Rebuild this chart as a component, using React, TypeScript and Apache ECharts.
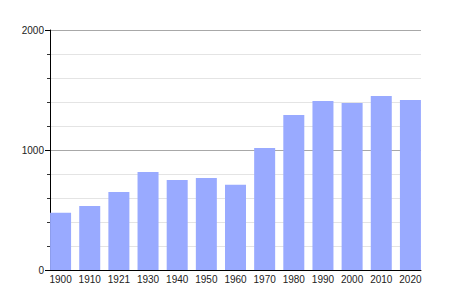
import React, { useEffect, useRef } from "react";
import * as echarts from "echarts";

const years = ["1900", "1910", "1921", "1930", "1940", "1950", "1960", "1970", "1980", "1990", "2000", "2010", "2020"];
const population = [477, 533, 650, 817, 750, 767, 711, 1017, 1292, 1408, 1392, 1450, 1417];
const yMin = 0;
const yMax = 2000;
const yInterval = 1000;

export default function App() {
  const ref = useRef<HTMLDivElement>(null);
  useEffect(() => {
    if (!ref.current) return;
    const chart = echarts.init(ref.current, null, { renderer: "svg" });
    const font = "Liberation Sans, Arial, sans-serif";
    chart.setOption({
      animation: false,
      backgroundColor: "#ffffff",
      grid: [
        { left: 46, right: 25, top: 30, bottom: 30, containLabel: false },
        { left: 50, right: 29, top: 30, bottom: 30, containLabel: false },
      ],
      xAxis: [
        {
          type: "category",
          gridIndex: 0,
          data: years,
          boundaryGap: true,
          axisLine: { show: false },
          axisTick: { show: false },
          axisLabel: { color: "#222", fontSize: 10, fontFamily: font, margin: 4, interval: 0 },
        },
        {
          type: "category",
          gridIndex: 1,
          data: years,
          axisLine: { show: true, lineStyle: { color: "#000", width: 1 } },
          axisTick: { show: false },
          axisLabel: { show: false },
        },
      ],
      yAxis: [
        {
          type: "value",
          gridIndex: 0,
          min: yMin,
          max: yMax,
          interval: yInterval,
          show: false,
          splitLine: { show: false },
        },
        {
          type: "value",
          gridIndex: 1,
          min: yMin,
          max: yMax,
          interval: yInterval,
          axisLine: { show: true, lineStyle: { color: "#000", width: 1 } },
          axisTick: { show: true, length: 5, lineStyle: { color: "#000" } },
          minorTick: { show: true, splitNumber: 5, length: 3, lineStyle: { color: "#333" } },
          axisLabel: {
            color: "#222",
            fontSize: 10,
            fontFamily: font,
            margin: 6,
            formatter: (v: number) => String(v),
          },
          splitLine: { show: true, lineStyle: { color: "#a8a8a8", width: 1 } },
          minorSplitLine: { show: true, lineStyle: { color: "#e4e4e4", width: 1 } },
        },
      ],
      series: [
        {
          type: "bar",
          xAxisIndex: 0,
          yAxisIndex: 0,
          data: population,
          barWidth: 21,
          itemStyle: { color: "#99aaff" },
          z: 3,
        },
      ],
    });
    return () => chart.dispose();
  }, []);
  return <div ref={ref} style={{ width: 450, height: 300, position: "absolute", left: 0, top: 0 }} />;
}
